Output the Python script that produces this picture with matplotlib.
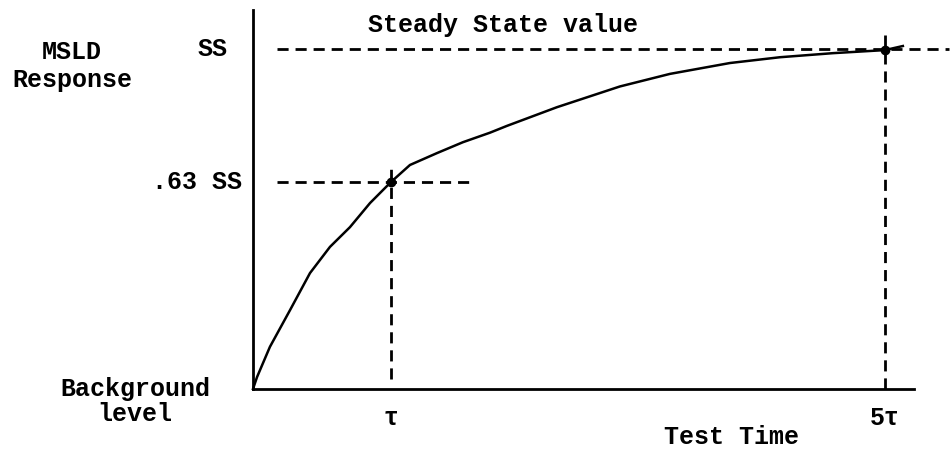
import matplotlib.pyplot as plt
import numpy as np

# response curve (time in units where 5tau = 5, response in SS units)
time = [0.0, 0.032, 0.134, 0.293, 0.451, 0.609, 0.767, 0.926, 1.092, 1.242, 1.456,
        1.661, 1.875, 2.009, 2.405, 2.903, 3.299, 3.774, 4.169, 4.589, 5.0, 5.142]
response = [0.0, 0.035, 0.124, 0.232, 0.341, 0.418, 0.476, 0.547, 0.609, 0.659, 0.694,
            0.726, 0.754, 0.774, 0.829, 0.890, 0.927, 0.959, 0.976, 0.988, 0.997, 1.009]

tau = 1.092
five_tau = 5.0
ss = 1.0
ss63 = 0.609

x_labels = ["\u03c4", "5\u03c4"]
y_labels = ["SS", ".63 SS"]

plt.rcParams['font.family'] = ['Liberation Mono', 'DejaVu Sans']
fs = 18

fig = plt.figure(figsize=(9.5, 4.5), dpi=100)
ax = fig.add_axes([0.2663, 0.1356, 0.6958, 0.8422])
ax.set_xlim(0, 5.23)
ax.set_ylim(0, 1.115)
for s in ['top', 'right']:
    ax.spines[s].set_visible(False)
for s in ['left', 'bottom']:
    ax.spines[s].set_linewidth(2)
ax.set_xticks([])
ax.set_yticks([])

ax.plot(time, response, color='black', lw=1.8, clip_on=False)

dash = dict(color='black', lw=2, linestyle=(0, (4, 2.5)), clip_on=False)
ax.plot([0.19, 5.51], [ss, ss], **dash)
ax.plot([0.19, 1.756], [ss63, ss63], **dash)
ax.plot([tau, tau], [0.03, 0.653], **dash)
ax.plot([five_tau, five_tau], [0, 1.041], **dash)

ax.plot([tau, five_tau], [ss63, 0.997], 'o', color='black', ms=6, ls='none', clip_on=False)

tk = dict(fontsize=fs, fontweight='bold', color='black')
ax.text(tau, -0.085, x_labels[0], ha='center', va='center', **tk)
ax.text(five_tau, -0.085, x_labels[1], ha='center', va='center', **tk)
ax.text(3.79, -0.14, "Test Time", ha='center', va='center', **tk)

ax.text(-0.2, ss, y_labels[0], ha='right', va='center', **tk)
ax.text(-0.09, ss63, y_labels[1], ha='right', va='center', **tk)
ax.text(0.911, 1.07, "Steady State value", ha='left', va='center', **tk)

fig.text(72 / 950, 1 - 52 / 450, "MSLD", ha='center', va='center', **tk)
fig.text(72 / 950, 1 - 80 / 450, "Response", ha='center', va='center', **tk)
fig.text(135 / 950, 1 - 389 / 450, "Background", ha='center', va='center', **tk)
fig.text(135 / 950, 1 - 414 / 450, "level", ha='center', va='center', **tk)

fig.savefig('out.png', dpi=100)
